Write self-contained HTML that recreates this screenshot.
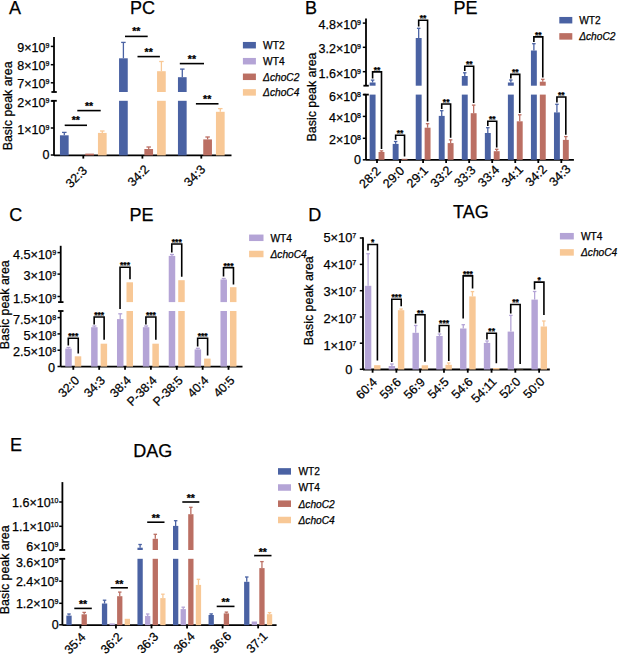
<!DOCTYPE html>
<html><head><meta charset="utf-8"><style>
html,body{margin:0;padding:0;background:#fff;}
body{width:618px;height:655px;overflow:hidden;}
svg{display:block;}
text{font-family:"Liberation Sans", sans-serif;fill:#000;stroke:#000;stroke-width:0.25px;}
</style></head><body>
<svg width="618" height="655" viewBox="0 0 618 655">
<rect width="618" height="655" fill="#fff"/>
<text x="9.00" y="14.20" font-size="18" text-anchor="start" >A</text>
<text x="130.00" y="13.80" font-size="18" text-anchor="start" >PC</text>
<line x1="54.00" y1="37.00" x2="54.00" y2="92.00" stroke="#000" stroke-width="1.8"/>
<line x1="51.40" y1="92.00" x2="56.80" y2="92.00" stroke="#000" stroke-width="1.8"/>
<line x1="50.80" y1="46.40" x2="54.00" y2="46.40" stroke="#000" stroke-width="1.5"/>
<line x1="50.80" y1="64.70" x2="54.00" y2="64.70" stroke="#000" stroke-width="1.5"/>
<line x1="50.80" y1="82.80" x2="54.00" y2="82.80" stroke="#000" stroke-width="1.5"/>
<text x="49.40" y="51.90" font-size="12.5" text-anchor="end" >9×10<tspan font-size="7.0" dy="-3.94">9</tspan></text>
<text x="49.40" y="70.20" font-size="12.5" text-anchor="end" >8×10<tspan font-size="7.0" dy="-3.94">9</tspan></text>
<text x="49.40" y="88.30" font-size="12.5" text-anchor="end" >7×10<tspan font-size="7.0" dy="-3.94">9</tspan></text>
<line x1="54.00" y1="100.80" x2="54.00" y2="155.40" stroke="#000" stroke-width="1.8"/>
<line x1="51.40" y1="100.80" x2="56.80" y2="100.80" stroke="#000" stroke-width="1.8"/>
<line x1="50.80" y1="101.00" x2="54.00" y2="101.00" stroke="#000" stroke-width="1.5"/>
<line x1="50.80" y1="128.00" x2="54.00" y2="128.00" stroke="#000" stroke-width="1.5"/>
<line x1="50.80" y1="155.00" x2="54.00" y2="155.00" stroke="#000" stroke-width="1.5"/>
<text x="49.40" y="106.50" font-size="12.5" text-anchor="end" >2×10<tspan font-size="7.0" dy="-3.94">9</tspan></text>
<text x="49.40" y="133.50" font-size="12.5" text-anchor="end" >1×10<tspan font-size="7.0" dy="-3.94">9</tspan></text>
<text x="49.40" y="159.30" font-size="12.5" text-anchor="end" >0</text>
<line x1="54.00" y1="155.40" x2="231.50" y2="155.40" stroke="#000" stroke-width="1.8"/>
<line x1="83.30" y1="155.40" x2="83.30" y2="158.60" stroke="#000" stroke-width="1.8"/>
<line x1="142.40" y1="155.40" x2="142.40" y2="158.60" stroke="#000" stroke-width="1.8"/>
<line x1="201.30" y1="155.40" x2="201.30" y2="158.60" stroke="#000" stroke-width="1.8"/>
<rect x="59.95" y="135.30" width="8.70" height="20.10" fill="#4a62a3"/>
<line x1="64.30" y1="132.40" x2="64.30" y2="135.30" stroke="#4a62a3" stroke-width="1.3"/>
<line x1="62.05" y1="132.40" x2="66.55" y2="132.40" stroke="#4a62a3" stroke-width="1.3"/>
<rect x="85.25" y="153.60" width="8.70" height="1.80" fill="#bb6f63"/>
<rect x="97.95" y="132.90" width="8.70" height="22.50" fill="#f8c896"/>
<line x1="102.30" y1="131.00" x2="102.30" y2="132.90" stroke="#f8c896" stroke-width="1.3"/>
<line x1="100.05" y1="131.00" x2="104.55" y2="131.00" stroke="#f8c896" stroke-width="1.3"/>
<rect x="119.05" y="58.30" width="8.70" height="33.70" fill="#4a62a3"/>
<rect x="119.05" y="100.80" width="8.70" height="54.60" fill="#4a62a3"/>
<line x1="123.40" y1="42.40" x2="123.40" y2="58.30" stroke="#4a62a3" stroke-width="1.3"/>
<line x1="121.15" y1="42.40" x2="125.65" y2="42.40" stroke="#4a62a3" stroke-width="1.3"/>
<rect x="144.35" y="149.00" width="8.70" height="6.40" fill="#bb6f63"/>
<line x1="148.70" y1="147.00" x2="148.70" y2="149.00" stroke="#bb6f63" stroke-width="1.3"/>
<line x1="146.45" y1="147.00" x2="150.95" y2="147.00" stroke="#bb6f63" stroke-width="1.3"/>
<rect x="157.05" y="71.20" width="8.70" height="20.80" fill="#f8c896"/>
<rect x="157.05" y="100.80" width="8.70" height="54.60" fill="#f8c896"/>
<line x1="161.40" y1="61.50" x2="161.40" y2="71.20" stroke="#f8c896" stroke-width="1.3"/>
<line x1="159.15" y1="61.50" x2="163.65" y2="61.50" stroke="#f8c896" stroke-width="1.3"/>
<rect x="177.95" y="77.20" width="8.70" height="14.80" fill="#4a62a3"/>
<rect x="177.95" y="100.80" width="8.70" height="54.60" fill="#4a62a3"/>
<line x1="182.30" y1="69.10" x2="182.30" y2="77.20" stroke="#4a62a3" stroke-width="1.3"/>
<line x1="180.05" y1="69.10" x2="184.55" y2="69.10" stroke="#4a62a3" stroke-width="1.3"/>
<rect x="203.25" y="139.40" width="8.70" height="16.00" fill="#bb6f63"/>
<line x1="207.60" y1="137.00" x2="207.60" y2="139.40" stroke="#bb6f63" stroke-width="1.3"/>
<line x1="205.35" y1="137.00" x2="209.85" y2="137.00" stroke="#bb6f63" stroke-width="1.3"/>
<rect x="215.95" y="111.80" width="8.70" height="43.60" fill="#f8c896"/>
<line x1="220.30" y1="108.60" x2="220.30" y2="111.80" stroke="#f8c896" stroke-width="1.3"/>
<line x1="218.05" y1="108.60" x2="222.55" y2="108.60" stroke="#f8c896" stroke-width="1.3"/>
<line x1="64.70" y1="125.30" x2="87.00" y2="125.30" stroke="#000" stroke-width="1.6"/>
<text x="75.85" y="124.30" font-size="10.5" text-anchor="middle" font-weight="bold">**</text>
<line x1="77.30" y1="110.60" x2="100.70" y2="110.60" stroke="#000" stroke-width="1.6"/>
<text x="89.00" y="109.60" font-size="10.5" text-anchor="middle" font-weight="bold">**</text>
<line x1="125.00" y1="36.40" x2="147.70" y2="36.40" stroke="#000" stroke-width="1.6"/>
<text x="136.35" y="35.40" font-size="10.5" text-anchor="middle" font-weight="bold">**</text>
<line x1="137.50" y1="56.60" x2="159.90" y2="56.60" stroke="#000" stroke-width="1.6"/>
<text x="148.70" y="55.60" font-size="10.5" text-anchor="middle" font-weight="bold">**</text>
<line x1="179.80" y1="63.60" x2="204.00" y2="63.60" stroke="#000" stroke-width="1.6"/>
<text x="191.90" y="62.60" font-size="10.5" text-anchor="middle" font-weight="bold">**</text>
<line x1="195.90" y1="103.80" x2="218.50" y2="103.80" stroke="#000" stroke-width="1.6"/>
<text x="207.20" y="102.80" font-size="10.5" text-anchor="middle" font-weight="bold">**</text>
<text x="87.80" y="171.40" font-size="12.4" text-anchor="end" transform="rotate(-45 87.80 171.40)">32:3</text>
<text x="149.90" y="170.00" font-size="12.4" text-anchor="end" transform="rotate(-45 149.90 170.00)">34:2</text>
<text x="206.10" y="170.20" font-size="12.4" text-anchor="end" transform="rotate(-45 206.10 170.20)">34:3</text>
<text x="11.80" y="105.90" font-size="12.4" text-anchor="middle" transform="rotate(-90 11.80 105.90)">Basic peak area</text>
<rect x="242.90" y="41.95" width="13.00" height="6.50" fill="#4a62a3"/>
<text x="263.10" y="49.00" font-size="10.2" text-anchor="start" >WT2</text>
<rect x="242.90" y="57.95" width="13.00" height="6.50" fill="#b4a4d6"/>
<text x="263.10" y="65.00" font-size="10.2" text-anchor="start" >WT4</text>
<rect x="242.90" y="73.55" width="13.00" height="6.50" fill="#bb6f63"/>
<text x="263.10" y="80.60" font-size="10.2" text-anchor="start" ><tspan font-style="italic">ΔchoC2</tspan></text>
<rect x="242.90" y="89.15" width="13.00" height="6.50" fill="#f8c896"/>
<text x="263.10" y="96.20" font-size="10.2" text-anchor="start" ><tspan font-style="italic">ΔchoC4</tspan></text>
<text x="305.00" y="13.80" font-size="18" text-anchor="start" >B</text>
<text x="453.50" y="13.80" font-size="18" text-anchor="start" >PE</text>
<line x1="366.00" y1="18.40" x2="366.00" y2="85.70" stroke="#000" stroke-width="1.8"/>
<line x1="363.40" y1="85.70" x2="368.80" y2="85.70" stroke="#000" stroke-width="1.8"/>
<line x1="362.80" y1="23.10" x2="366.00" y2="23.10" stroke="#000" stroke-width="1.5"/>
<line x1="362.80" y1="47.30" x2="366.00" y2="47.30" stroke="#000" stroke-width="1.5"/>
<line x1="362.80" y1="71.70" x2="366.00" y2="71.70" stroke="#000" stroke-width="1.5"/>
<text x="361.00" y="29.00" font-size="12.5" text-anchor="end" >4.8×10<tspan font-size="7.0" dy="-3.94">9</tspan></text>
<text x="361.00" y="53.20" font-size="12.5" text-anchor="end" >3.2×10<tspan font-size="7.0" dy="-3.94">9</tspan></text>
<text x="361.00" y="77.60" font-size="12.5" text-anchor="end" >1.6×10<tspan font-size="7.0" dy="-3.94">9</tspan></text>
<line x1="366.00" y1="94.60" x2="366.00" y2="159.80" stroke="#000" stroke-width="1.8"/>
<line x1="363.40" y1="94.60" x2="368.80" y2="94.60" stroke="#000" stroke-width="1.8"/>
<line x1="362.80" y1="94.60" x2="366.00" y2="94.60" stroke="#000" stroke-width="1.5"/>
<line x1="362.80" y1="116.40" x2="366.00" y2="116.40" stroke="#000" stroke-width="1.5"/>
<line x1="362.80" y1="138.30" x2="366.00" y2="138.30" stroke="#000" stroke-width="1.5"/>
<line x1="362.80" y1="159.80" x2="366.00" y2="159.80" stroke="#000" stroke-width="1.5"/>
<text x="361.00" y="100.50" font-size="12.5" text-anchor="end" >6×10<tspan font-size="7.0" dy="-3.94">8</tspan></text>
<text x="361.00" y="122.30" font-size="12.5" text-anchor="end" >4×10<tspan font-size="7.0" dy="-3.94">8</tspan></text>
<text x="361.00" y="144.20" font-size="12.5" text-anchor="end" >2×10<tspan font-size="7.0" dy="-3.94">8</tspan></text>
<text x="361.00" y="164.10" font-size="12.5" text-anchor="end" >0</text>
<line x1="366.00" y1="159.80" x2="573.90" y2="159.80" stroke="#000" stroke-width="1.8"/>
<line x1="377.00" y1="159.80" x2="377.00" y2="163.00" stroke="#000" stroke-width="1.8"/>
<line x1="400.04" y1="159.80" x2="400.04" y2="163.00" stroke="#000" stroke-width="1.8"/>
<line x1="423.08" y1="159.80" x2="423.08" y2="163.00" stroke="#000" stroke-width="1.8"/>
<line x1="446.12" y1="159.80" x2="446.12" y2="163.00" stroke="#000" stroke-width="1.8"/>
<line x1="469.16" y1="159.80" x2="469.16" y2="163.00" stroke="#000" stroke-width="1.8"/>
<line x1="492.20" y1="159.80" x2="492.20" y2="163.00" stroke="#000" stroke-width="1.8"/>
<line x1="515.24" y1="159.80" x2="515.24" y2="163.00" stroke="#000" stroke-width="1.8"/>
<line x1="538.28" y1="159.80" x2="538.28" y2="163.00" stroke="#000" stroke-width="1.8"/>
<line x1="561.32" y1="159.80" x2="561.32" y2="163.00" stroke="#000" stroke-width="1.8"/>
<rect x="369.65" y="82.50" width="5.90" height="3.20" fill="#4a62a3"/>
<rect x="369.65" y="94.60" width="5.90" height="65.20" fill="#4a62a3"/>
<line x1="372.60" y1="80.10" x2="372.60" y2="82.50" stroke="#4a62a3" stroke-width="1.3"/>
<line x1="370.85" y1="80.10" x2="374.35" y2="80.10" stroke="#4a62a3" stroke-width="1.3"/>
<rect x="378.55" y="152.00" width="5.90" height="7.80" fill="#bb6f63"/>
<line x1="381.50" y1="150.90" x2="381.50" y2="152.00" stroke="#bb6f63" stroke-width="1.3"/>
<line x1="379.75" y1="150.90" x2="383.25" y2="150.90" stroke="#bb6f63" stroke-width="1.3"/>
<rect x="392.69" y="143.90" width="5.90" height="15.90" fill="#4a62a3"/>
<line x1="395.64" y1="141.50" x2="395.64" y2="143.90" stroke="#4a62a3" stroke-width="1.3"/>
<line x1="393.89" y1="141.50" x2="397.39" y2="141.50" stroke="#4a62a3" stroke-width="1.3"/>
<rect x="401.59" y="158.80" width="5.90" height="1.00" fill="#bb6f63"/>
<rect x="415.73" y="38.00" width="5.90" height="47.70" fill="#4a62a3"/>
<rect x="415.73" y="94.60" width="5.90" height="65.20" fill="#4a62a3"/>
<line x1="418.68" y1="28.30" x2="418.68" y2="38.00" stroke="#4a62a3" stroke-width="1.3"/>
<line x1="416.93" y1="28.30" x2="420.43" y2="28.30" stroke="#4a62a3" stroke-width="1.3"/>
<rect x="424.63" y="127.70" width="5.90" height="32.10" fill="#bb6f63"/>
<line x1="427.58" y1="123.70" x2="427.58" y2="127.70" stroke="#bb6f63" stroke-width="1.3"/>
<line x1="425.83" y1="123.70" x2="429.33" y2="123.70" stroke="#bb6f63" stroke-width="1.3"/>
<rect x="438.77" y="115.90" width="5.90" height="43.90" fill="#4a62a3"/>
<line x1="441.72" y1="110.70" x2="441.72" y2="115.90" stroke="#4a62a3" stroke-width="1.3"/>
<line x1="439.97" y1="110.70" x2="443.47" y2="110.70" stroke="#4a62a3" stroke-width="1.3"/>
<rect x="447.67" y="143.10" width="5.90" height="16.70" fill="#bb6f63"/>
<line x1="450.62" y1="139.90" x2="450.62" y2="143.10" stroke="#bb6f63" stroke-width="1.3"/>
<line x1="448.87" y1="139.90" x2="452.37" y2="139.90" stroke="#bb6f63" stroke-width="1.3"/>
<rect x="461.81" y="76.00" width="5.90" height="9.70" fill="#4a62a3"/>
<rect x="461.81" y="94.60" width="5.90" height="65.20" fill="#4a62a3"/>
<line x1="464.76" y1="72.80" x2="464.76" y2="76.00" stroke="#4a62a3" stroke-width="1.3"/>
<line x1="463.01" y1="72.80" x2="466.51" y2="72.80" stroke="#4a62a3" stroke-width="1.3"/>
<rect x="470.71" y="113.20" width="5.90" height="46.60" fill="#bb6f63"/>
<line x1="473.66" y1="105.10" x2="473.66" y2="113.20" stroke="#bb6f63" stroke-width="1.3"/>
<line x1="471.91" y1="105.10" x2="475.41" y2="105.10" stroke="#bb6f63" stroke-width="1.3"/>
<rect x="484.85" y="133.00" width="5.90" height="26.80" fill="#4a62a3"/>
<line x1="487.80" y1="127.70" x2="487.80" y2="133.00" stroke="#4a62a3" stroke-width="1.3"/>
<line x1="486.05" y1="127.70" x2="489.55" y2="127.70" stroke="#4a62a3" stroke-width="1.3"/>
<rect x="493.75" y="151.20" width="5.90" height="8.60" fill="#bb6f63"/>
<line x1="496.70" y1="149.30" x2="496.70" y2="151.20" stroke="#bb6f63" stroke-width="1.3"/>
<line x1="494.95" y1="149.30" x2="498.45" y2="149.30" stroke="#bb6f63" stroke-width="1.3"/>
<rect x="507.89" y="82.50" width="5.90" height="3.20" fill="#4a62a3"/>
<rect x="507.89" y="94.60" width="5.90" height="65.20" fill="#4a62a3"/>
<line x1="510.84" y1="80.00" x2="510.84" y2="82.50" stroke="#4a62a3" stroke-width="1.3"/>
<line x1="509.09" y1="80.00" x2="512.59" y2="80.00" stroke="#4a62a3" stroke-width="1.3"/>
<rect x="516.79" y="121.30" width="5.90" height="38.50" fill="#bb6f63"/>
<line x1="519.74" y1="114.80" x2="519.74" y2="121.30" stroke="#bb6f63" stroke-width="1.3"/>
<line x1="517.99" y1="114.80" x2="521.49" y2="114.80" stroke="#bb6f63" stroke-width="1.3"/>
<rect x="530.93" y="50.50" width="5.90" height="35.20" fill="#4a62a3"/>
<rect x="530.93" y="94.60" width="5.90" height="65.20" fill="#4a62a3"/>
<line x1="533.88" y1="43.70" x2="533.88" y2="50.50" stroke="#4a62a3" stroke-width="1.3"/>
<line x1="532.13" y1="43.70" x2="535.63" y2="43.70" stroke="#4a62a3" stroke-width="1.3"/>
<rect x="539.83" y="81.70" width="5.90" height="4.00" fill="#bb6f63"/>
<rect x="539.83" y="94.60" width="5.90" height="65.20" fill="#bb6f63"/>
<line x1="542.78" y1="79.30" x2="542.78" y2="81.70" stroke="#bb6f63" stroke-width="1.3"/>
<line x1="541.03" y1="79.30" x2="544.53" y2="79.30" stroke="#bb6f63" stroke-width="1.3"/>
<rect x="553.97" y="112.40" width="5.90" height="47.40" fill="#4a62a3"/>
<line x1="556.92" y1="104.30" x2="556.92" y2="112.40" stroke="#4a62a3" stroke-width="1.3"/>
<line x1="555.17" y1="104.30" x2="558.67" y2="104.30" stroke="#4a62a3" stroke-width="1.3"/>
<rect x="562.87" y="139.90" width="5.90" height="19.90" fill="#bb6f63"/>
<line x1="565.82" y1="136.60" x2="565.82" y2="139.90" stroke="#bb6f63" stroke-width="1.3"/>
<line x1="564.07" y1="136.60" x2="567.57" y2="136.60" stroke="#bb6f63" stroke-width="1.3"/>
<polyline points="372.60,78.50 372.60,71.90 381.50,71.90 381.50,148.90" fill="none" stroke="#000" stroke-width="1.6"/>
<text x="377.05" y="72.70" font-size="8.5" text-anchor="middle" font-weight="bold">**</text>
<polyline points="395.64,139.80 395.64,135.30 404.54,135.30 404.54,156.50" fill="none" stroke="#000" stroke-width="1.6"/>
<text x="400.09" y="136.10" font-size="8.5" text-anchor="middle" font-weight="bold">**</text>
<polyline points="418.68,26.50 418.68,20.20 427.58,20.20 427.58,121.40" fill="none" stroke="#000" stroke-width="1.6"/>
<text x="423.13" y="21.00" font-size="8.5" text-anchor="middle" font-weight="bold">**</text>
<polyline points="441.72,109.00 441.72,104.00 450.62,104.00 450.62,137.80" fill="none" stroke="#000" stroke-width="1.6"/>
<text x="446.17" y="104.80" font-size="8.5" text-anchor="middle" font-weight="bold">**</text>
<polyline points="464.76,71.00 464.76,66.30 473.66,66.30 473.66,103.00" fill="none" stroke="#000" stroke-width="1.6"/>
<text x="469.21" y="67.10" font-size="8.5" text-anchor="middle" font-weight="bold">**</text>
<polyline points="487.80,126.00 487.80,121.30 496.70,121.30 496.70,147.50" fill="none" stroke="#000" stroke-width="1.6"/>
<text x="492.25" y="122.10" font-size="8.5" text-anchor="middle" font-weight="bold">**</text>
<polyline points="510.84,78.50 510.84,74.40 519.74,74.40 519.74,113.00" fill="none" stroke="#000" stroke-width="1.6"/>
<text x="515.29" y="75.20" font-size="8.5" text-anchor="middle" font-weight="bold">**</text>
<polyline points="533.88,42.00 533.88,36.90 542.78,36.90 542.78,77.50" fill="none" stroke="#000" stroke-width="1.6"/>
<text x="538.33" y="37.70" font-size="8.5" text-anchor="middle" font-weight="bold">**</text>
<polyline points="556.92,102.50 556.92,97.00 565.82,97.00 565.82,134.80" fill="none" stroke="#000" stroke-width="1.6"/>
<text x="561.37" y="97.80" font-size="8.5" text-anchor="middle" font-weight="bold">**</text>
<text x="381.50" y="171.80" font-size="12.5" text-anchor="end" transform="rotate(-45 381.50 171.80)">28:2</text>
<text x="405.24" y="171.55" font-size="12.5" text-anchor="end" transform="rotate(-45 405.24 171.55)">29:0</text>
<text x="428.98" y="171.30" font-size="12.5" text-anchor="end" transform="rotate(-45 428.98 171.30)">29:1</text>
<text x="452.72" y="171.05" font-size="12.5" text-anchor="end" transform="rotate(-45 452.72 171.05)">33:2</text>
<text x="476.46" y="170.80" font-size="12.5" text-anchor="end" transform="rotate(-45 476.46 170.80)">33:3</text>
<text x="500.20" y="170.55" font-size="12.5" text-anchor="end" transform="rotate(-45 500.20 170.55)">33:4</text>
<text x="523.94" y="170.30" font-size="12.5" text-anchor="end" transform="rotate(-45 523.94 170.30)">34:1</text>
<text x="547.68" y="170.05" font-size="12.5" text-anchor="end" transform="rotate(-45 547.68 170.05)">34:2</text>
<text x="571.42" y="169.80" font-size="12.5" text-anchor="end" transform="rotate(-45 571.42 169.80)">34:3</text>
<text x="315.80" y="97.00" font-size="12.4" text-anchor="middle" transform="rotate(-90 315.80 97.00)">Basic peak area</text>
<rect x="559.30" y="16.95" width="13.00" height="6.50" fill="#4a62a3"/>
<text x="579.20" y="24.00" font-size="10.2" text-anchor="start" >WT2</text>
<rect x="559.30" y="33.15" width="13.00" height="6.50" fill="#bb6f63"/>
<text x="579.20" y="40.20" font-size="10.2" text-anchor="start" ><tspan font-style="italic">ΔchoC2</tspan></text>
<text x="9.20" y="220.80" font-size="18" text-anchor="start" >C</text>
<text x="129.50" y="221.20" font-size="18" text-anchor="start" >PE</text>
<line x1="60.70" y1="245.80" x2="60.70" y2="302.10" stroke="#000" stroke-width="1.8"/>
<line x1="58.10" y1="302.10" x2="63.50" y2="302.10" stroke="#000" stroke-width="1.8"/>
<line x1="57.50" y1="252.60" x2="60.70" y2="252.60" stroke="#000" stroke-width="1.5"/>
<line x1="57.50" y1="274.10" x2="60.70" y2="274.10" stroke="#000" stroke-width="1.5"/>
<line x1="57.50" y1="296.50" x2="60.70" y2="296.50" stroke="#000" stroke-width="1.5"/>
<text x="56.10" y="258.80" font-size="12.7" text-anchor="end" >4.5×10<tspan font-size="7.1" dy="-4.00">9</tspan></text>
<text x="56.10" y="280.30" font-size="12.7" text-anchor="end" >3×10<tspan font-size="7.1" dy="-4.00">9</tspan></text>
<text x="56.10" y="302.70" font-size="12.7" text-anchor="end" >1.5×10<tspan font-size="7.1" dy="-4.00">9</tspan></text>
<line x1="60.70" y1="311.00" x2="60.70" y2="366.60" stroke="#000" stroke-width="1.8"/>
<line x1="58.10" y1="311.00" x2="63.50" y2="311.00" stroke="#000" stroke-width="1.8"/>
<line x1="57.50" y1="317.60" x2="60.70" y2="317.60" stroke="#000" stroke-width="1.5"/>
<line x1="57.50" y1="333.90" x2="60.70" y2="333.90" stroke="#000" stroke-width="1.5"/>
<line x1="57.50" y1="350.20" x2="60.70" y2="350.20" stroke="#000" stroke-width="1.5"/>
<line x1="57.50" y1="366.50" x2="60.70" y2="366.50" stroke="#000" stroke-width="1.5"/>
<text x="56.10" y="323.80" font-size="12.7" text-anchor="end" >7.5×10<tspan font-size="7.1" dy="-4.00">8</tspan></text>
<text x="56.10" y="340.10" font-size="12.7" text-anchor="end" >5×10<tspan font-size="7.1" dy="-4.00">8</tspan></text>
<text x="56.10" y="356.40" font-size="12.7" text-anchor="end" >2.5×10<tspan font-size="7.1" dy="-4.00">8</tspan></text>
<text x="55.10" y="372.00" font-size="12.7" text-anchor="end" >0</text>
<line x1="60.70" y1="366.60" x2="242.50" y2="366.60" stroke="#000" stroke-width="1.8"/>
<line x1="73.30" y1="366.60" x2="73.30" y2="369.80" stroke="#000" stroke-width="1.8"/>
<line x1="99.17" y1="366.60" x2="99.17" y2="369.80" stroke="#000" stroke-width="1.8"/>
<line x1="125.04" y1="366.60" x2="125.04" y2="369.80" stroke="#000" stroke-width="1.8"/>
<line x1="150.91" y1="366.60" x2="150.91" y2="369.80" stroke="#000" stroke-width="1.8"/>
<line x1="176.78" y1="366.60" x2="176.78" y2="369.80" stroke="#000" stroke-width="1.8"/>
<line x1="202.65" y1="366.60" x2="202.65" y2="369.80" stroke="#000" stroke-width="1.8"/>
<line x1="228.52" y1="366.60" x2="228.52" y2="369.80" stroke="#000" stroke-width="1.8"/>
<rect x="65.25" y="348.60" width="6.50" height="18.00" fill="#b4a4d6"/>
<line x1="68.50" y1="347.50" x2="68.50" y2="348.60" stroke="#b4a4d6" stroke-width="1.3"/>
<line x1="66.50" y1="347.50" x2="70.50" y2="347.50" stroke="#b4a4d6" stroke-width="1.3"/>
<rect x="74.75" y="356.30" width="6.50" height="10.30" fill="#f8c896"/>
<rect x="91.12" y="327.20" width="6.50" height="39.40" fill="#b4a4d6"/>
<line x1="94.37" y1="326.00" x2="94.37" y2="327.20" stroke="#b4a4d6" stroke-width="1.3"/>
<line x1="92.37" y1="326.00" x2="96.37" y2="326.00" stroke="#b4a4d6" stroke-width="1.3"/>
<rect x="100.62" y="343.70" width="6.50" height="22.90" fill="#f8c896"/>
<rect x="116.99" y="319.10" width="6.50" height="47.50" fill="#b4a4d6"/>
<line x1="120.24" y1="313.80" x2="120.24" y2="319.10" stroke="#b4a4d6" stroke-width="1.3"/>
<line x1="118.24" y1="313.80" x2="122.24" y2="313.80" stroke="#b4a4d6" stroke-width="1.3"/>
<rect x="126.49" y="282.30" width="6.50" height="19.80" fill="#f8c896"/>
<rect x="126.49" y="311.00" width="6.50" height="55.60" fill="#f8c896"/>
<rect x="142.86" y="327.20" width="6.50" height="39.40" fill="#b4a4d6"/>
<line x1="146.11" y1="326.00" x2="146.11" y2="327.20" stroke="#b4a4d6" stroke-width="1.3"/>
<line x1="144.11" y1="326.00" x2="148.11" y2="326.00" stroke="#b4a4d6" stroke-width="1.3"/>
<rect x="152.36" y="343.70" width="6.50" height="22.90" fill="#f8c896"/>
<rect x="168.73" y="255.90" width="6.50" height="46.20" fill="#b4a4d6"/>
<rect x="168.73" y="311.00" width="6.50" height="55.60" fill="#b4a4d6"/>
<line x1="171.98" y1="254.50" x2="171.98" y2="255.90" stroke="#b4a4d6" stroke-width="1.3"/>
<line x1="169.98" y1="254.50" x2="173.98" y2="254.50" stroke="#b4a4d6" stroke-width="1.3"/>
<rect x="178.23" y="280.20" width="6.50" height="21.90" fill="#f8c896"/>
<rect x="178.23" y="311.00" width="6.50" height="55.60" fill="#f8c896"/>
<rect x="194.60" y="349.40" width="6.50" height="17.20" fill="#b4a4d6"/>
<line x1="197.85" y1="348.30" x2="197.85" y2="349.40" stroke="#b4a4d6" stroke-width="1.3"/>
<line x1="195.85" y1="348.30" x2="199.85" y2="348.30" stroke="#b4a4d6" stroke-width="1.3"/>
<rect x="204.10" y="358.60" width="6.50" height="8.00" fill="#f8c896"/>
<rect x="220.47" y="279.50" width="6.50" height="22.60" fill="#b4a4d6"/>
<rect x="220.47" y="311.00" width="6.50" height="55.60" fill="#b4a4d6"/>
<line x1="223.72" y1="278.50" x2="223.72" y2="279.50" stroke="#b4a4d6" stroke-width="1.3"/>
<line x1="221.72" y1="278.50" x2="225.72" y2="278.50" stroke="#b4a4d6" stroke-width="1.3"/>
<rect x="229.97" y="287.20" width="6.50" height="14.90" fill="#f8c896"/>
<rect x="229.97" y="311.00" width="6.50" height="55.60" fill="#f8c896"/>
<polyline points="68.30,345.50 68.30,338.20 78.25,338.20 78.25,353.50" fill="none" stroke="#000" stroke-width="1.6"/>
<text x="73.28" y="339.00" font-size="8.5" text-anchor="middle" font-weight="bold">***</text>
<polyline points="94.17,324.50 94.17,317.00 104.12,317.00 104.12,339.80" fill="none" stroke="#000" stroke-width="1.6"/>
<text x="99.15" y="317.80" font-size="8.5" text-anchor="middle" font-weight="bold">***</text>
<polyline points="120.04,309.10 120.04,267.20 129.99,267.20 129.99,279.20" fill="none" stroke="#000" stroke-width="1.6"/>
<text x="125.01" y="268.00" font-size="8.5" text-anchor="middle" font-weight="bold">***</text>
<polyline points="145.91,324.50 145.91,317.00 155.86,317.00 155.86,339.80" fill="none" stroke="#000" stroke-width="1.6"/>
<text x="150.88" y="317.80" font-size="8.5" text-anchor="middle" font-weight="bold">***</text>
<polyline points="171.78,252.50 171.78,244.00 181.73,244.00 181.73,276.80" fill="none" stroke="#000" stroke-width="1.6"/>
<text x="176.75" y="244.80" font-size="8.5" text-anchor="middle" font-weight="bold">***</text>
<polyline points="197.65,346.50 197.65,338.30 207.60,338.30 207.60,355.50" fill="none" stroke="#000" stroke-width="1.6"/>
<text x="202.62" y="339.10" font-size="8.5" text-anchor="middle" font-weight="bold">***</text>
<polyline points="223.52,276.50 223.52,267.70 233.47,267.70 233.47,284.50" fill="none" stroke="#000" stroke-width="1.6"/>
<text x="228.49" y="268.50" font-size="8.5" text-anchor="middle" font-weight="bold">***</text>
<text x="80.10" y="381.20" font-size="12.3" text-anchor="end" transform="rotate(-45 80.10 381.20)">32:0</text>
<text x="105.97" y="381.20" font-size="12.3" text-anchor="end" transform="rotate(-45 105.97 381.20)">34:3</text>
<text x="131.84" y="381.20" font-size="12.3" text-anchor="end" transform="rotate(-45 131.84 381.20)">38:4</text>
<text x="157.71" y="381.20" font-size="12.3" text-anchor="end" transform="rotate(-45 157.71 381.20)">P-38:4</text>
<text x="183.58" y="381.20" font-size="12.3" text-anchor="end" transform="rotate(-45 183.58 381.20)">P-38:5</text>
<text x="209.45" y="381.20" font-size="12.3" text-anchor="end" transform="rotate(-45 209.45 381.20)">40:4</text>
<text x="235.32" y="381.20" font-size="12.3" text-anchor="end" transform="rotate(-45 235.32 381.20)">40:5</text>
<text x="9.20" y="304.75" font-size="12.4" text-anchor="middle" transform="rotate(-90 9.20 304.75)">Basic peak area</text>
<rect x="249.10" y="234.55" width="14.40" height="6.50" fill="#b4a4d6"/>
<text x="270.50" y="241.60" font-size="10.2" text-anchor="start" >WT4</text>
<rect x="249.10" y="250.75" width="14.40" height="6.50" fill="#f8c896"/>
<text x="270.50" y="257.80" font-size="10.2" text-anchor="start" ><tspan font-style="italic">ΔchoC4</tspan></text>
<text x="308.20" y="221.00" font-size="18" text-anchor="start" >D</text>
<text x="453.00" y="217.70" font-size="18" text-anchor="start" >TAG</text>
<line x1="363.00" y1="237.20" x2="363.00" y2="369.50" stroke="#000" stroke-width="1.8"/>
<line x1="359.80" y1="238.00" x2="363.00" y2="238.00" stroke="#000" stroke-width="1.5"/>
<line x1="359.80" y1="264.40" x2="363.00" y2="264.40" stroke="#000" stroke-width="1.5"/>
<line x1="359.80" y1="290.70" x2="363.00" y2="290.70" stroke="#000" stroke-width="1.5"/>
<line x1="359.80" y1="317.00" x2="363.00" y2="317.00" stroke="#000" stroke-width="1.5"/>
<line x1="359.80" y1="343.20" x2="363.00" y2="343.20" stroke="#000" stroke-width="1.5"/>
<line x1="359.80" y1="369.30" x2="363.00" y2="369.30" stroke="#000" stroke-width="1.5"/>
<text x="356.30" y="241.90" font-size="12.8" text-anchor="end" >5×10<tspan font-size="7.2" dy="-4.03">7</tspan></text>
<text x="356.30" y="268.90" font-size="12.8" text-anchor="end" >4×10<tspan font-size="7.2" dy="-4.03">7</tspan></text>
<text x="356.30" y="295.80" font-size="12.8" text-anchor="end" >3×10<tspan font-size="7.2" dy="-4.03">7</tspan></text>
<text x="356.30" y="322.80" font-size="12.8" text-anchor="end" >2×10<tspan font-size="7.2" dy="-4.03">7</tspan></text>
<text x="356.30" y="349.60" font-size="12.8" text-anchor="end" >1×10<tspan font-size="7.2" dy="-4.03">7</tspan></text>
<text x="352.30" y="373.80" font-size="12.8" text-anchor="end" >0</text>
<line x1="363.00" y1="369.50" x2="549.80" y2="369.50" stroke="#000" stroke-width="1.8"/>
<line x1="372.60" y1="369.50" x2="372.60" y2="372.70" stroke="#000" stroke-width="1.8"/>
<line x1="396.39" y1="369.50" x2="396.39" y2="372.70" stroke="#000" stroke-width="1.8"/>
<line x1="420.18" y1="369.50" x2="420.18" y2="372.70" stroke="#000" stroke-width="1.8"/>
<line x1="443.97" y1="369.50" x2="443.97" y2="372.70" stroke="#000" stroke-width="1.8"/>
<line x1="467.76" y1="369.50" x2="467.76" y2="372.70" stroke="#000" stroke-width="1.8"/>
<line x1="491.55" y1="369.50" x2="491.55" y2="372.70" stroke="#000" stroke-width="1.8"/>
<line x1="515.34" y1="369.50" x2="515.34" y2="372.70" stroke="#000" stroke-width="1.8"/>
<line x1="539.13" y1="369.50" x2="539.13" y2="372.70" stroke="#000" stroke-width="1.8"/>
<rect x="364.90" y="285.80" width="6.40" height="83.70" fill="#b4a4d6"/>
<line x1="368.10" y1="253.70" x2="368.10" y2="285.80" stroke="#b4a4d6" stroke-width="1.3"/>
<line x1="366.35" y1="253.70" x2="369.85" y2="253.70" stroke="#b4a4d6" stroke-width="1.3"/>
<rect x="374.10" y="365.20" width="6.40" height="4.30" fill="#f8c896"/>
<rect x="388.69" y="366.00" width="6.40" height="3.50" fill="#b4a4d6"/>
<line x1="391.89" y1="364.00" x2="391.89" y2="366.00" stroke="#b4a4d6" stroke-width="1.3"/>
<line x1="390.14" y1="364.00" x2="393.64" y2="364.00" stroke="#b4a4d6" stroke-width="1.3"/>
<rect x="397.89" y="310.20" width="6.40" height="59.30" fill="#f8c896"/>
<line x1="401.09" y1="309.00" x2="401.09" y2="310.20" stroke="#f8c896" stroke-width="1.3"/>
<line x1="399.34" y1="309.00" x2="402.84" y2="309.00" stroke="#f8c896" stroke-width="1.3"/>
<rect x="412.48" y="332.80" width="6.40" height="36.70" fill="#b4a4d6"/>
<line x1="415.68" y1="325.50" x2="415.68" y2="332.80" stroke="#b4a4d6" stroke-width="1.3"/>
<line x1="413.93" y1="325.50" x2="417.43" y2="325.50" stroke="#b4a4d6" stroke-width="1.3"/>
<rect x="421.68" y="365.30" width="6.40" height="4.20" fill="#f8c896"/>
<rect x="436.27" y="336.00" width="6.40" height="33.50" fill="#b4a4d6"/>
<line x1="439.47" y1="334.00" x2="439.47" y2="336.00" stroke="#b4a4d6" stroke-width="1.3"/>
<line x1="437.72" y1="334.00" x2="441.22" y2="334.00" stroke="#b4a4d6" stroke-width="1.3"/>
<rect x="445.47" y="364.80" width="6.40" height="4.70" fill="#f8c896"/>
<line x1="448.67" y1="363.00" x2="448.67" y2="364.80" stroke="#f8c896" stroke-width="1.3"/>
<line x1="446.92" y1="363.00" x2="450.42" y2="363.00" stroke="#f8c896" stroke-width="1.3"/>
<rect x="460.06" y="328.50" width="6.40" height="41.00" fill="#b4a4d6"/>
<line x1="463.26" y1="324.70" x2="463.26" y2="328.50" stroke="#b4a4d6" stroke-width="1.3"/>
<line x1="461.51" y1="324.70" x2="465.01" y2="324.70" stroke="#b4a4d6" stroke-width="1.3"/>
<rect x="469.26" y="296.40" width="6.40" height="73.10" fill="#f8c896"/>
<line x1="472.46" y1="291.60" x2="472.46" y2="296.40" stroke="#f8c896" stroke-width="1.3"/>
<line x1="470.71" y1="291.60" x2="474.21" y2="291.60" stroke="#f8c896" stroke-width="1.3"/>
<rect x="483.85" y="342.90" width="6.40" height="26.60" fill="#b4a4d6"/>
<line x1="487.05" y1="341.00" x2="487.05" y2="342.90" stroke="#b4a4d6" stroke-width="1.3"/>
<line x1="485.30" y1="341.00" x2="488.80" y2="341.00" stroke="#b4a4d6" stroke-width="1.3"/>
<rect x="493.05" y="368.00" width="6.40" height="1.50" fill="#f8c896"/>
<rect x="507.64" y="331.60" width="6.40" height="37.90" fill="#b4a4d6"/>
<line x1="510.84" y1="315.40" x2="510.84" y2="331.60" stroke="#b4a4d6" stroke-width="1.3"/>
<line x1="509.09" y1="315.40" x2="512.59" y2="315.40" stroke="#b4a4d6" stroke-width="1.3"/>
<rect x="516.84" y="369.30" width="6.40" height="0.20" fill="#f8c896"/>
<rect x="531.43" y="299.60" width="6.40" height="69.90" fill="#b4a4d6"/>
<line x1="534.63" y1="291.50" x2="534.63" y2="299.60" stroke="#b4a4d6" stroke-width="1.3"/>
<line x1="532.88" y1="291.50" x2="536.38" y2="291.50" stroke="#b4a4d6" stroke-width="1.3"/>
<rect x="540.63" y="326.50" width="6.40" height="43.00" fill="#f8c896"/>
<line x1="543.83" y1="321.00" x2="543.83" y2="326.50" stroke="#f8c896" stroke-width="1.3"/>
<line x1="542.08" y1="321.00" x2="545.58" y2="321.00" stroke="#f8c896" stroke-width="1.3"/>
<polyline points="368.00,250.50 368.00,244.50 377.40,244.50 377.40,360.50" fill="none" stroke="#000" stroke-width="1.6"/>
<text x="372.70" y="245.30" font-size="8.5" text-anchor="middle" font-weight="bold">*</text>
<polyline points="391.79,362.10 391.79,299.30 401.19,299.30 401.19,306.20" fill="none" stroke="#000" stroke-width="1.6"/>
<text x="396.49" y="300.10" font-size="8.5" text-anchor="middle" font-weight="bold">***</text>
<polyline points="415.58,323.50 415.58,314.70 424.98,314.70 424.98,361.70" fill="none" stroke="#000" stroke-width="1.6"/>
<text x="420.28" y="315.50" font-size="8.5" text-anchor="middle" font-weight="bold">**</text>
<polyline points="439.37,332.50 439.37,325.50 448.77,325.50 448.77,360.90" fill="none" stroke="#000" stroke-width="1.6"/>
<text x="444.07" y="326.30" font-size="8.5" text-anchor="middle" font-weight="bold">***</text>
<polyline points="463.16,318.50 463.16,275.90 472.56,275.90 472.56,288.50" fill="none" stroke="#000" stroke-width="1.6"/>
<text x="467.86" y="276.70" font-size="8.5" text-anchor="middle" font-weight="bold">***</text>
<polyline points="486.95,339.50 486.95,333.20 496.35,333.20 496.35,363.20" fill="none" stroke="#000" stroke-width="1.6"/>
<text x="491.65" y="334.00" font-size="8.5" text-anchor="middle" font-weight="bold">**</text>
<polyline points="510.74,313.50 510.74,304.50 520.14,304.50 520.14,364.00" fill="none" stroke="#000" stroke-width="1.6"/>
<text x="515.44" y="305.30" font-size="8.5" text-anchor="middle" font-weight="bold">**</text>
<polyline points="534.53,289.50 534.53,282.10 543.93,282.10 543.93,315.10" fill="none" stroke="#000" stroke-width="1.6"/>
<text x="539.23" y="282.90" font-size="8.5" text-anchor="middle" font-weight="bold">*</text>
<text x="377.90" y="383.00" font-size="12.3" text-anchor="end" transform="rotate(-45 377.90 383.00)">60:4</text>
<text x="401.81" y="382.90" font-size="12.3" text-anchor="end" transform="rotate(-45 401.81 382.90)">59:6</text>
<text x="425.72" y="382.80" font-size="12.3" text-anchor="end" transform="rotate(-45 425.72 382.80)">56:9</text>
<text x="449.63" y="382.70" font-size="12.3" text-anchor="end" transform="rotate(-45 449.63 382.70)">54:5</text>
<text x="473.54" y="382.60" font-size="12.3" text-anchor="end" transform="rotate(-45 473.54 382.60)">54:6</text>
<text x="497.45" y="382.50" font-size="12.3" text-anchor="end" transform="rotate(-45 497.45 382.50)">54:11</text>
<text x="521.36" y="382.40" font-size="12.3" text-anchor="end" transform="rotate(-45 521.36 382.40)">52:0</text>
<text x="545.27" y="382.30" font-size="12.3" text-anchor="end" transform="rotate(-45 545.27 382.30)">50:0</text>
<text x="313.30" y="300.70" font-size="12.4" text-anchor="middle" transform="rotate(-90 313.30 300.70)">Basic peak area</text>
<rect x="559.90" y="232.95" width="13.90" height="6.50" fill="#b4a4d6"/>
<text x="581.00" y="240.00" font-size="10.2" text-anchor="start" >WT4</text>
<rect x="559.90" y="249.15" width="13.90" height="6.50" fill="#f8c896"/>
<text x="581.00" y="256.20" font-size="10.2" text-anchor="start" ><tspan font-style="italic">ΔchoC4</tspan></text>
<text x="10.00" y="451.00" font-size="18" text-anchor="start" >E</text>
<text x="133.30" y="457.20" font-size="18" text-anchor="start" >DAG</text>
<line x1="62.40" y1="482.10" x2="62.40" y2="550.00" stroke="#000" stroke-width="1.8"/>
<line x1="59.80" y1="550.00" x2="65.20" y2="550.00" stroke="#000" stroke-width="1.8"/>
<line x1="59.20" y1="502.00" x2="62.40" y2="502.00" stroke="#000" stroke-width="1.5"/>
<line x1="59.20" y1="526.30" x2="62.40" y2="526.30" stroke="#000" stroke-width="1.5"/>
<line x1="59.20" y1="550.00" x2="62.40" y2="550.00" stroke="#000" stroke-width="1.5"/>
<text x="58.40" y="506.60" font-size="12.5" text-anchor="end" >1.6×10<tspan font-size="7.0" dy="-3.94">10</tspan></text>
<text x="58.40" y="530.90" font-size="12.5" text-anchor="end" >1.1×10<tspan font-size="7.0" dy="-3.94">10</tspan></text>
<text x="58.40" y="550.80" font-size="12.5" text-anchor="end" >6×10<tspan font-size="7.0" dy="-3.94">9</tspan></text>
<line x1="62.40" y1="558.80" x2="62.40" y2="625.20" stroke="#000" stroke-width="1.8"/>
<line x1="59.80" y1="558.80" x2="65.20" y2="558.80" stroke="#000" stroke-width="1.8"/>
<line x1="59.20" y1="558.80" x2="62.40" y2="558.80" stroke="#000" stroke-width="1.5"/>
<line x1="59.20" y1="581.20" x2="62.40" y2="581.20" stroke="#000" stroke-width="1.5"/>
<line x1="59.20" y1="603.30" x2="62.40" y2="603.30" stroke="#000" stroke-width="1.5"/>
<line x1="59.20" y1="624.80" x2="62.40" y2="624.80" stroke="#000" stroke-width="1.5"/>
<text x="58.40" y="566.60" font-size="12.5" text-anchor="end" >3.6×10<tspan font-size="7.0" dy="-3.94">9</tspan></text>
<text x="58.40" y="585.80" font-size="12.5" text-anchor="end" >2.4×10<tspan font-size="7.0" dy="-3.94">9</tspan></text>
<text x="58.40" y="607.90" font-size="12.5" text-anchor="end" >1.2×10<tspan font-size="7.0" dy="-3.94">9</tspan></text>
<text x="58.60" y="628.80" font-size="12.5" text-anchor="end" >0</text>
<line x1="62.40" y1="625.20" x2="276.60" y2="625.20" stroke="#000" stroke-width="1.8"/>
<line x1="80.40" y1="625.20" x2="80.40" y2="628.40" stroke="#000" stroke-width="1.8"/>
<line x1="115.95" y1="625.20" x2="115.95" y2="628.40" stroke="#000" stroke-width="1.8"/>
<line x1="151.50" y1="625.20" x2="151.50" y2="628.40" stroke="#000" stroke-width="1.8"/>
<line x1="187.05" y1="625.20" x2="187.05" y2="628.40" stroke="#000" stroke-width="1.8"/>
<line x1="222.60" y1="625.20" x2="222.60" y2="628.40" stroke="#000" stroke-width="1.8"/>
<line x1="258.15" y1="625.20" x2="258.15" y2="628.40" stroke="#000" stroke-width="1.8"/>
<rect x="66.35" y="615.60" width="5.30" height="9.60" fill="#4a62a3"/>
<line x1="69.00" y1="614.00" x2="69.00" y2="615.60" stroke="#4a62a3" stroke-width="1.3"/>
<line x1="67.25" y1="614.00" x2="70.75" y2="614.00" stroke="#4a62a3" stroke-width="1.3"/>
<rect x="81.55" y="614.30" width="5.30" height="10.90" fill="#bb6f63"/>
<line x1="84.20" y1="612.40" x2="84.20" y2="614.30" stroke="#bb6f63" stroke-width="1.3"/>
<line x1="82.45" y1="612.40" x2="85.95" y2="612.40" stroke="#bb6f63" stroke-width="1.3"/>
<rect x="101.90" y="603.50" width="5.30" height="21.70" fill="#4a62a3"/>
<line x1="104.55" y1="600.20" x2="104.55" y2="603.50" stroke="#4a62a3" stroke-width="1.3"/>
<line x1="102.80" y1="600.20" x2="106.30" y2="600.20" stroke="#4a62a3" stroke-width="1.3"/>
<rect x="109.50" y="623.40" width="5.30" height="1.80" fill="#b4a4d6"/>
<rect x="117.10" y="596.20" width="5.30" height="29.00" fill="#bb6f63"/>
<line x1="119.75" y1="592.10" x2="119.75" y2="596.20" stroke="#bb6f63" stroke-width="1.3"/>
<line x1="118.00" y1="592.10" x2="121.50" y2="592.10" stroke="#bb6f63" stroke-width="1.3"/>
<rect x="124.70" y="618.80" width="5.30" height="6.40" fill="#f8c896"/>
<rect x="137.45" y="547.70" width="5.30" height="2.30" fill="#4a62a3"/>
<rect x="137.45" y="558.80" width="5.30" height="66.40" fill="#4a62a3"/>
<line x1="140.10" y1="544.50" x2="140.10" y2="547.70" stroke="#4a62a3" stroke-width="1.3"/>
<line x1="138.35" y1="544.50" x2="141.85" y2="544.50" stroke="#4a62a3" stroke-width="1.3"/>
<rect x="145.05" y="615.90" width="5.30" height="9.30" fill="#b4a4d6"/>
<line x1="147.70" y1="614.00" x2="147.70" y2="615.90" stroke="#b4a4d6" stroke-width="1.3"/>
<line x1="145.95" y1="614.00" x2="149.45" y2="614.00" stroke="#b4a4d6" stroke-width="1.3"/>
<rect x="152.65" y="538.80" width="5.30" height="11.20" fill="#bb6f63"/>
<rect x="152.65" y="558.80" width="5.30" height="66.40" fill="#bb6f63"/>
<line x1="155.30" y1="534.30" x2="155.30" y2="538.80" stroke="#bb6f63" stroke-width="1.3"/>
<line x1="153.55" y1="534.30" x2="157.05" y2="534.30" stroke="#bb6f63" stroke-width="1.3"/>
<rect x="160.25" y="598.10" width="5.30" height="27.10" fill="#f8c896"/>
<line x1="162.90" y1="594.20" x2="162.90" y2="598.10" stroke="#f8c896" stroke-width="1.3"/>
<line x1="161.15" y1="594.20" x2="164.65" y2="594.20" stroke="#f8c896" stroke-width="1.3"/>
<rect x="173.00" y="525.90" width="5.30" height="24.10" fill="#4a62a3"/>
<rect x="173.00" y="558.80" width="5.30" height="66.40" fill="#4a62a3"/>
<line x1="175.65" y1="520.70" x2="175.65" y2="525.90" stroke="#4a62a3" stroke-width="1.3"/>
<line x1="173.90" y1="520.70" x2="177.40" y2="520.70" stroke="#4a62a3" stroke-width="1.3"/>
<rect x="180.60" y="609.10" width="5.30" height="16.10" fill="#b4a4d6"/>
<line x1="183.25" y1="607.20" x2="183.25" y2="609.10" stroke="#b4a4d6" stroke-width="1.3"/>
<line x1="181.50" y1="607.20" x2="185.00" y2="607.20" stroke="#b4a4d6" stroke-width="1.3"/>
<rect x="188.20" y="514.20" width="5.30" height="35.80" fill="#bb6f63"/>
<rect x="188.20" y="558.80" width="5.30" height="66.40" fill="#bb6f63"/>
<line x1="190.85" y1="507.30" x2="190.85" y2="514.20" stroke="#bb6f63" stroke-width="1.3"/>
<line x1="189.10" y1="507.30" x2="192.60" y2="507.30" stroke="#bb6f63" stroke-width="1.3"/>
<rect x="195.80" y="584.90" width="5.30" height="40.30" fill="#f8c896"/>
<line x1="198.45" y1="579.30" x2="198.45" y2="584.90" stroke="#f8c896" stroke-width="1.3"/>
<line x1="196.70" y1="579.30" x2="200.20" y2="579.30" stroke="#f8c896" stroke-width="1.3"/>
<rect x="208.55" y="615.00" width="5.30" height="10.20" fill="#4a62a3"/>
<line x1="211.20" y1="613.90" x2="211.20" y2="615.00" stroke="#4a62a3" stroke-width="1.3"/>
<line x1="209.45" y1="613.90" x2="212.95" y2="613.90" stroke="#4a62a3" stroke-width="1.3"/>
<rect x="223.75" y="613.40" width="5.30" height="11.80" fill="#bb6f63"/>
<line x1="226.40" y1="612.10" x2="226.40" y2="613.40" stroke="#bb6f63" stroke-width="1.3"/>
<line x1="224.65" y1="612.10" x2="228.15" y2="612.10" stroke="#bb6f63" stroke-width="1.3"/>
<rect x="244.10" y="581.80" width="5.30" height="43.40" fill="#4a62a3"/>
<line x1="246.75" y1="577.00" x2="246.75" y2="581.80" stroke="#4a62a3" stroke-width="1.3"/>
<line x1="245.00" y1="577.00" x2="248.50" y2="577.00" stroke="#4a62a3" stroke-width="1.3"/>
<rect x="251.70" y="621.50" width="5.30" height="3.70" fill="#b4a4d6"/>
<rect x="259.30" y="568.10" width="5.30" height="57.10" fill="#bb6f63"/>
<line x1="261.95" y1="561.60" x2="261.95" y2="568.10" stroke="#bb6f63" stroke-width="1.3"/>
<line x1="260.20" y1="561.60" x2="263.70" y2="561.60" stroke="#bb6f63" stroke-width="1.3"/>
<rect x="266.90" y="614.20" width="5.30" height="11.00" fill="#f8c896"/>
<line x1="269.55" y1="612.60" x2="269.55" y2="614.20" stroke="#f8c896" stroke-width="1.3"/>
<line x1="267.80" y1="612.60" x2="271.30" y2="612.60" stroke="#f8c896" stroke-width="1.3"/>
<line x1="74.30" y1="608.40" x2="91.80" y2="608.40" stroke="#000" stroke-width="1.6"/>
<text x="83.05" y="608.40" font-size="10.5" text-anchor="middle" font-weight="bold">**</text>
<line x1="110.70" y1="587.80" x2="127.90" y2="587.80" stroke="#000" stroke-width="1.6"/>
<text x="119.30" y="587.80" font-size="10.5" text-anchor="middle" font-weight="bold">**</text>
<line x1="147.20" y1="522.20" x2="164.50" y2="522.20" stroke="#000" stroke-width="1.6"/>
<text x="155.85" y="522.20" font-size="10.5" text-anchor="middle" font-weight="bold">**</text>
<line x1="182.30" y1="502.00" x2="199.30" y2="502.00" stroke="#000" stroke-width="1.6"/>
<text x="190.80" y="502.00" font-size="10.5" text-anchor="middle" font-weight="bold">**</text>
<line x1="216.70" y1="606.40" x2="234.50" y2="606.40" stroke="#000" stroke-width="1.6"/>
<text x="225.60" y="606.40" font-size="10.5" text-anchor="middle" font-weight="bold">**</text>
<line x1="254.20" y1="555.60" x2="271.50" y2="555.60" stroke="#000" stroke-width="1.6"/>
<text x="262.85" y="555.60" font-size="10.5" text-anchor="middle" font-weight="bold">**</text>
<text x="86.40" y="637.80" font-size="12.3" text-anchor="end" transform="rotate(-45 86.40 637.80)">35:4</text>
<text x="122.80" y="637.60" font-size="12.3" text-anchor="end" transform="rotate(-45 122.80 637.60)">36:2</text>
<text x="159.20" y="637.40" font-size="12.3" text-anchor="end" transform="rotate(-45 159.20 637.40)">36:3</text>
<text x="195.60" y="637.20" font-size="12.3" text-anchor="end" transform="rotate(-45 195.60 637.20)">36:4</text>
<text x="232.00" y="637.00" font-size="12.3" text-anchor="end" transform="rotate(-45 232.00 637.00)">36:6</text>
<text x="268.40" y="636.80" font-size="12.3" text-anchor="end" transform="rotate(-45 268.40 636.80)">37:1</text>
<text x="8.80" y="569.80" font-size="12.4" text-anchor="middle" transform="rotate(-90 8.80 569.80)">Basic peak area</text>
<rect x="278.00" y="468.15" width="13.00" height="6.50" fill="#4a62a3"/>
<text x="298.50" y="475.20" font-size="10.2" text-anchor="start" >WT2</text>
<rect x="278.00" y="484.25" width="13.00" height="6.50" fill="#b4a4d6"/>
<text x="298.50" y="491.30" font-size="10.2" text-anchor="start" >WT4</text>
<rect x="278.00" y="500.45" width="13.00" height="6.50" fill="#bb6f63"/>
<text x="298.50" y="507.50" font-size="10.2" text-anchor="start" ><tspan font-style="italic">ΔchoC2</tspan></text>
<rect x="278.00" y="516.75" width="13.00" height="6.50" fill="#f8c896"/>
<text x="298.50" y="523.80" font-size="10.2" text-anchor="start" ><tspan font-style="italic">ΔchoC4</tspan></text>
</svg></body></html>
